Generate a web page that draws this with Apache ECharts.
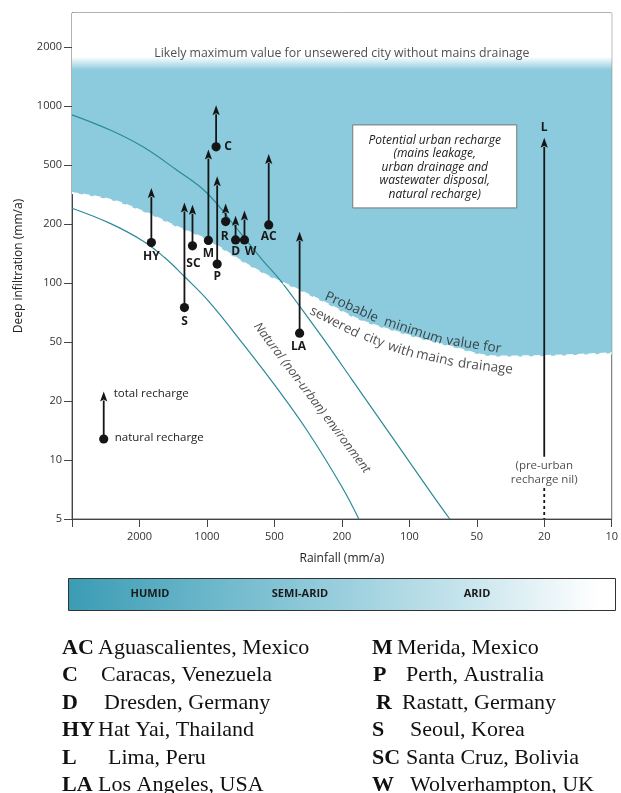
<!DOCTYPE html>
<html><head><meta charset="utf-8">
<script src="https://cdn.jsdelivr.net/npm/echarts@6/dist/echarts.min.js"></script>
<style>html,body{margin:0;padding:0;background:#fff}#c{width:621px;height:793px}</style>
</head><body><div id="c"></div>
<script>
// ---------- data (real units, mm/a) ----------
const xTickValues = [10, 20, 50, 100, 200, 500, 1000, 2000, 5000];
const xTickLabels = ['10', '20', '50', '100', '200', '500', '1000', '2000', ''];
const yTickValues = [5, 10, 20, 50, 100, 200, 500, 1000, 2000, 5000];
const yTickLabels = ['5', '10', '20', '50', '100', '200', '500', '1000', '2000', ''];
const yTopValue = 3400;          // top of plotted range
const fadeTopValue = 1785;       // blue fades out above this
const solidTopValue = 1530;      // blue fully solid below this

const cityCodes    = ['HY', 'S', 'SC', 'M', 'C', 'P', 'R', 'D', 'W', 'AC', 'LA'];
const cityRainfall = [1770, 1260, 1160, 985, 910, 900, 825, 745, 680, 530, 355];
const cityNatural  = [161, 75, 155, 165, 620, 125, 208, 166, 166, 198, 55.5];
const cityTotal    = [350, 280, 270, 600, 1010, 420, 275, 228, 247, 570, 183];

const limaRainfall = 20, limaTotal = 690, limaSolidBottom = 10.4, limaDottedTop = 7.2;
const keyRainfall = 3250, keyNatural = 12.8, keyTotal = 23.2;

const naturalUpper = [[5000,903],[3000,757],[1930,620],[1370,465],[1000,324],[717,183],[565,131],[469,105],[342,73],[250,50.2],[180,27.8],[140,17],[112,11.8],[80,6.8],[66,5]];
const naturalLower = [[5000,256],[3000,203],[1930,164],[1545,135],[1260,108],[975,80],[693,49],[490,25],[313,13.7],[200,7.3],[168,5]];
const sewerMinimum = [[5000,324],[3000,292],[1930,243],[1370,194],[1000,166],[717,131],[528,108],[358,92],[228,76],[168,65],[112,56],[67,47],[37.5,40],[19.3,40.3],[10,42]];

const boxAnchor = [77, 490];
const boxText = 'Potential urban recharge\n(mains leakage,\nurban drainage and\nwastewater disposal,\nnatural recharge)';
const notes = [
  [200, 1848, 'Likely maximum value for unsewered city without mains drainage'],
  [181, 75.3, 'Probable'], [95.9, 57.1, 'minimum'], [51.6, 47.9, 'value for'],
  [221, 63.2, 'sewered'], [144, 51.4, 'city'], [109, 44.3, 'with'], [76.8, 39, 'mains'], [44.5, 34.2, 'drainage'],
  [300, 21, 'Natural (non-urban) environment'],
  [20, 8.6, '(pre-urban\nrecharge nil)']
];
const placeNames = [
  ['AC', 'Aguascalientes, Mexico'], ['C', 'Caracas, Venezuela'], ['D', 'Dresden, Germany'],
  ['HY', 'Hat Yai, Thailand'], ['L', 'Lima, Peru'], ['LA', 'Los Angeles, USA'],
  ['M', 'Merida, Mexico'], ['P', 'Perth, Australia'], ['R', 'Rastatt, Germany'],
  ['S', 'Seoul, Korea'], ['SC', 'Santa Cruz, Bolivia'], ['W', 'Wolverhampton, UK']
];
const zones = ['HUMID', 'SEMI-ARID', 'ARID'];

// ---------- styling / layout ----------
const BLUE = '#8ccbdd', TEAL = '#2b8a99', INK = '#151515';
const SANS = '"Open Sans", "Noto Sans", sans-serif';
const labelOffset = {HY:[0,14], S:[0,14], SC:[1,18], M:[0,13], P:[0,12], C:[12,0], R:[-1,15], D:[0,12], W:[6,12], AC:[0,12], LA:[-1,13]};
const noteStyle = [
  {fontSize: 12.3, color: '#222'},
  {fontSize: 13.5, rotate: -24}, {fontSize: 13.5, rotate: -18}, {fontSize: 13.5, rotate: -9},
  {fontSize: 13.5, rotate: -27}, {fontSize: 13.5, rotate: -22}, {fontSize: 13.5, rotate: -18}, {fontSize: 13.5, rotate: -13}, {fontSize: 13.5, rotate: -7},
  {fontSize: 12.5, rotate: -53, fontStyle: 'italic'},
  {fontSize: 11.5, lineHeight: 14}
];

// 1-2-5 equal-step scale transform
function step(v, ticks) {
  let i = 0;
  while (i < ticks.length - 2 && v > ticks[i + 1]) i++;
  return i + Math.log(v / ticks[i]) / Math.log(ticks[i + 1] / ticks[i]);
}
const sx = v => step(v, xTickValues);
const sy = v => step(v, yTickValues);
const pts = arr => arr.map(p => [sx(p[0]), sy(p[1])]);

const sTop = sy(yTopValue);
const sMin = Math.min(...sewerMinimum.map(p => sy(p[1])));
const fadeA = (sTop - sy(fadeTopValue)) / (sTop - sMin);
const fadeB = (sTop - sy(solidTopValue)) / (sTop - sMin);

const chart = echarts.init(document.getElementById('c'), null, {renderer: 'canvas'});

function arrowGroup(api, x, yn, yt, withDot) {
  const p1 = api.coord([x, yn]), p2 = api.coord([x, yt]);
  const head = 10, hw = 3.6;
  const ch = [
    {type: 'line', shape: {x1: p1[0], y1: p1[1], x2: p2[0], y2: p2[1] + head - 1}, style: {stroke: INK, lineWidth: 1.8}},
    {type: 'polygon', shape: {points: [[p2[0], p2[1]], [p2[0] - hw, p2[1] + head], [p2[0], p2[1] + head - 2], [p2[0] + hw, p2[1] + head]]}, style: {fill: INK}}
  ];
  if (withDot) ch.push({type: 'circle', shape: {cx: p1[0], cy: p1[1], r: 4.6}, style: {fill: INK}});
  return {ch, p1, p2};
}

const option = {
  animation: false,
  grid: {left: 72, right: 7, top: 13, bottom: 274, show: true, borderColor: '#666', borderWidth: 1},
  xAxis: {
    type: 'value', min: 0, max: sx(5000), interval: 1, inverse: true,
    name: 'Rainfall (mm/a)', nameLocation: 'middle', nameGap: 34,
    nameTextStyle: {fontFamily: SANS, fontSize: 12, color: '#222'},
    axisLine: {onZero: false, lineStyle: {color: '#444'}},
    axisTick: {length: 8, lineStyle: {color: '#444'}},
    axisLabel: {margin: 12, fontFamily: SANS, fontSize: 11, color: '#333', formatter: v => xTickLabels[Math.round(v)] || ''},
    splitLine: {show: false}
  },
  yAxis: {
    type: 'value', min: 0, max: sTop, interval: 1,
    name: 'Deep infiltration (mm/a)', nameLocation: 'middle', nameGap: 47,
    nameTextStyle: {fontFamily: SANS, fontSize: 12, color: '#222'},
    axisLine: {show: true, onZero: false, lineStyle: {color: '#444'}},
    axisTick: {show: true, length: 8, lineStyle: {color: '#444'}, customValues: [0,1,2,3,4,5,6,7,8]},
    axisLabel: {margin: 10, fontFamily: SANS, fontSize: 11, color: '#333', customValues: [0,1,2,3,4,5,6,7,8], formatter: v => yTickLabels[Math.round(v)] || ''},
    splitLine: {show: false}
  },
  series: [
    {
      type: 'line', z: 1, data: pts(sewerMinimum), smooth: 0.4, symbol: 'none', silent: true,
      lineStyle: {width: 0},
      areaStyle: {origin: 'end', opacity: 1, color: new echarts.graphic.LinearGradient(0, 0, 0, 1, [
        {offset: 0, color: '#ffffff'}, {offset: fadeA, color: '#ffffff'},
        {offset: fadeB, color: BLUE}, {offset: 1, color: BLUE}])}
    },
    {type: 'line', z: 3, data: pts(naturalUpper), smooth: 0.4, symbol: 'none', silent: true, lineStyle: {color: TEAL, width: 1.2}},
    {type: 'line', z: 3, data: pts(naturalLower), smooth: 0.4, symbol: 'none', silent: true, lineStyle: {color: TEAL, width: 1.2}},
    {type: 'line', z: 4, data: pts(sewerMinimum), smooth: 0.4, symbol: 'none', silent: true, lineStyle: {color: '#ffffff', width: 2, type: [7, 4]}},
    {
      type: 'custom', z: 6, silent: true,
      data: cityCodes.map((c, i) => [sx(cityRainfall[i]), sy(cityNatural[i]), sy(cityTotal[i])]),
      encode: {x: 0, y: [1, 2]},
      renderItem: (params, api) => {
        const code = cityCodes[params.dataIndex];
        const a = arrowGroup(api, api.value(0), api.value(1), api.value(2), true);
        const off = labelOffset[code];
        a.ch.push({type: 'text', x: a.p1[0] + off[0], y: a.p1[1] + off[1],
          style: {text: code, fill: '#1a1a1a', font: 'bold 12px ' + SANS, align: 'center', verticalAlign: 'middle'}});
        return {type: 'group', children: a.ch};
      }
    },
    {
      type: 'custom', z: 6, silent: true,
      data: [[sx(limaRainfall), sy(limaSolidBottom), sy(limaTotal), sy(limaDottedTop)]],
      encode: {x: 0, y: [1, 2]},
      renderItem: (params, api) => {
        const a = arrowGroup(api, api.value(0), api.value(1), api.value(2), false);
        const d1 = api.coord([api.value(0), api.value(3)]), d2 = api.coord([api.value(0), 0]);
        a.ch.push({type: 'line', shape: {x1: d1[0], y1: d1[1], x2: d2[0], y2: d2[1]}, style: {stroke: INK, lineWidth: 1.8, lineDash: [3, 3]}});
        a.ch.push({type: 'text', x: a.p2[0], y: a.p2[1] - 10, style: {text: 'L', fill: '#1a1a1a', font: 'bold 12px ' + SANS, align: 'center', verticalAlign: 'middle'}});
        return {type: 'group', children: a.ch};
      }
    },
    {
      type: 'custom', z: 6, silent: true,
      data: [[sx(keyRainfall), sy(keyNatural), sy(keyTotal)]],
      encode: {x: 0, y: [1, 2]},
      renderItem: (params, api) => {
        const a = arrowGroup(api, api.value(0), api.value(1), api.value(2), true);
        a.ch.push({type: 'text', x: a.p2[0] + 10, y: a.p2[1] + 2, style: {text: 'total recharge', fill: '#222', font: '11.5px ' + SANS, align: 'left', verticalAlign: 'middle'}});
        a.ch.push({type: 'text', x: a.p1[0] + 11, y: a.p1[1] - 1, style: {text: 'natural recharge', fill: '#222', font: '11.5px ' + SANS, align: 'left', verticalAlign: 'middle'}});
        return {type: 'group', children: a.ch};
      }
    },
    {
      type: 'custom', z: 7, silent: true,
      data: [[sx(boxAnchor[0]), sy(boxAnchor[1])]],
      encode: {x: 0, y: 1},
      renderItem: (params, api) => {
        const c = api.coord([api.value(0), api.value(1)]);
        const w = 164, h = 83;
        return {type: 'group', children: [
          {type: 'rect', shape: {x: c[0] - w / 2, y: c[1] - h / 2, width: w, height: h}, style: {fill: '#ffffff', stroke: '#777', lineWidth: 1}},
          {type: 'text', x: c[0], y: c[1] + 1, style: {text: boxText, fill: '#222', font: 'italic 12px ' + SANS, lineHeight: 13.5, align: 'center', verticalAlign: 'middle'}}
        ]};
      }
    },
    {
      type: 'scatter', z: 7, symbolSize: 0, silent: true,
      data: notes.map((n, i) => ({
        value: [sx(n[0]), sy(n[1])],
        label: Object.assign({show: true, position: 'inside', formatter: n[2], fontFamily: SANS, color: '#222', align: 'center', verticalAlign: 'middle'}, noteStyle[i])
      }))
    }
  ],
  graphic: []
};

// bottom climate band and place-name key (page decoration below the plot)
const g = [];
g.push({type: 'rect', left: 68, top: 578, shape: {width: 547, height: 32},
  style: {fill: new echarts.graphic.LinearGradient(0, 0, 1, 0, [
    {offset: 0, color: '#3a9cb4'}, {offset: 0.4, color: '#86c5d6'}, {offset: 0.72, color: '#c6e4ec'}, {offset: 0.97, color: '#ffffff'}, {offset: 1, color: '#ffffff'}]),
    stroke: '#333', lineWidth: 1}});
const zoneX = [150, 300, 477];
zones.forEach((z, i) => g.push({type: 'text', x: zoneX[i], y: 594,
  style: {text: z, font: 'bold 11px ' + SANS, fill: '#1a1a1a', align: 'center', verticalAlign: 'middle'}}));
const rowY = [648, 675.5, 703, 730.5, 758, 785.5];
const abbrX = [62, 62, 62, 62, 62, 62, 372, 373, 376, 372, 372, 372];
const nameX = [98, 101, 104, 98, 108, 98, 397, 406, 402, 410, 406, 410];
placeNames.forEach((p, i) => {
  const y = rowY[i % 6];
  g.push({type: 'text', x: abbrX[i], y, style: {text: p[0], font: 'bold 22px "Liberation Serif", serif', fill: '#111', align: 'left', verticalAlign: 'middle'}});
  g.push({type: 'text', x: nameX[i], y, style: {text: p[1], font: '22px "Liberation Serif", serif', fill: '#111', align: 'left', verticalAlign: 'middle'}});
});
option.graphic = g;

chart.setOption(option);
</script></body></html>
